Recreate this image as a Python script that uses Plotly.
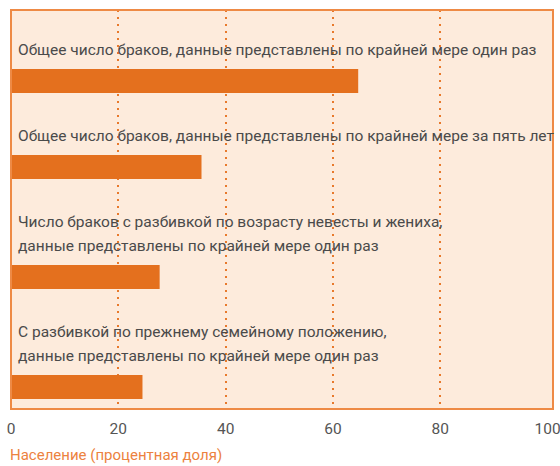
import plotly.graph_objects as go

categories = [
    "Общее число браков, данные представлены по крайней мере один раз",
    "Общее число браков, данные представлены по крайней мере за пять лет",
    "Число браков с разбивкой по возрасту невесты и жениха,<br>данные представлены по крайней мере один раз",
    "С разбивкой по прежнему семейному положению,<br>данные представлены по крайней мере один раз",
]
values = [64.7, 35.5, 27.7, 24.5]
x_ticks = [0, 20, 40, 60, 80, 100]
x_title = "Население (процентная доля)"

FONT = "Roboto, sans-serif"
BAR = "#E4701E"
ORANGE = "#EE8A45"
BG = "#FDEBDC"
TEXT = "#4A4A4A"

# layout constants (pixels of the plot area): each row = label lines + bar
W, H = 560, 466
M_L, M_R, M_T, M_B = 11, 7, 10, 57
PLOT_H = H - M_T - M_B
LINE_H = 24      # label line height
BAR_H = 24       # bar thickness
ROW_PAD = 62     # bar centre to next bar centre, excluding label lines
TOP_PAD = 47     # plot top to first bar centre, excluding label lines
LABEL_GAP = 31   # bar centre to centre of last label line

label_lines = [c.split("<br>") for c in categories]
bar_pos = []
pos = TOP_PAD - ROW_PAD
for lines in label_lines:
    pos = pos + ROW_PAD + LINE_H * len(lines)
    bar_pos.append(pos)

fig = go.Figure(
    go.Bar(
        x=values,
        y=bar_pos,
        orientation="h",
        marker=dict(color=BAR, line=dict(width=0)),
        width=BAR_H,
        hoverinfo="skip",
    )
)

for p, lines in zip(bar_pos, label_lines):
    n = len(lines)
    for j, line in enumerate(lines):
        fig.add_annotation(
            x=0, xref="paper", y=p - LABEL_GAP - (n - 1 - j) * LINE_H, yref="y",
            text=line, showarrow=False,
            xanchor="left", yanchor="middle", align="left",
            xshift=5,
            font=dict(family=FONT, size=15.5, color=TEXT),
        )

fig.add_annotation(
    x=0, xref="paper", y=0, yref="paper",
    text=x_title, showarrow=False,
    xanchor="left", yanchor="middle", xshift=-3, yshift=-46,
    font=dict(family=FONT, size=15, color="#EC8240"),
)

fig.add_shape(
    type="rect", xref="paper", yref="paper", x0=0, x1=1, y0=0, y1=1,
    line=dict(color=ORANGE, width=2), layer="above",
)

fig.update_layout(
    width=W, height=H,
    margin=dict(l=M_L, r=M_R, t=M_T, b=M_B, autoexpand=False),
    paper_bgcolor="white",
    plot_bgcolor=BG,
    showlegend=False,
    xaxis=dict(
        range=[0, 101],
        tickvals=x_ticks,
        ticktext=[str(t) for t in x_ticks],
        showgrid=False,
        minor=dict(
            tickvals=x_ticks[1:-1],
            showgrid=True,
            gridcolor="#E8792B",
            gridwidth=1.5,
            griddash="2px,5px",
            ticks="",
        ),
        zeroline=False,
        showline=False,
        ticks="",
        ticklabelstandoff=8,
        ticklabeloverflow="allow",
        automargin=False,
        tickfont=dict(family=FONT, size=15.5, color="#555555"),
        fixedrange=True,
    ),
    yaxis=dict(
        range=[PLOT_H, 0],
        showticklabels=False,
        showgrid=False,
        zeroline=False,
        ticks="",
        automargin=False,
        fixedrange=True,
    ),
)

fig.write_html(
    "out.html",
    config={"displayModeBar": False},
    post_script="document.body.style.margin='0';document.body.style.padding='0';",
)
